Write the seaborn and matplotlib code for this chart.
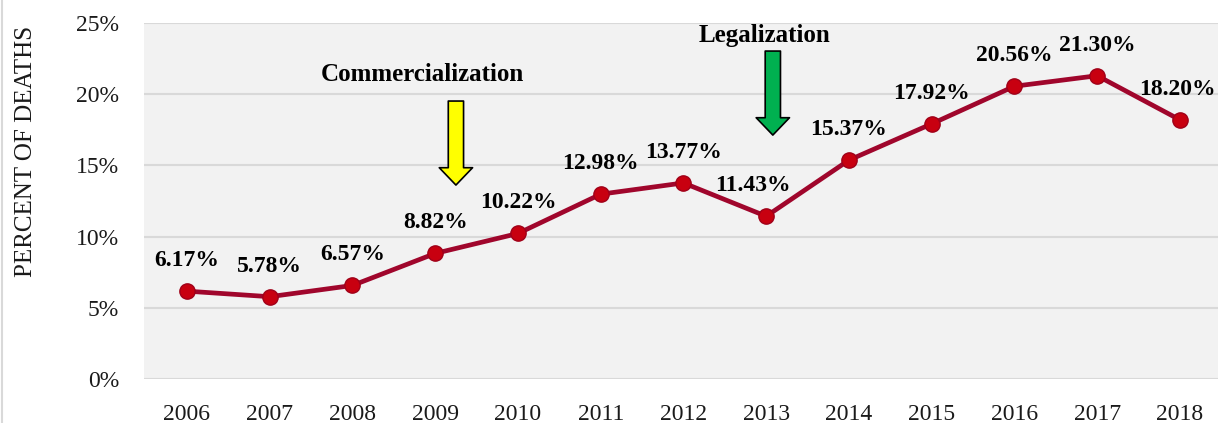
import matplotlib
matplotlib.use("Agg")
import matplotlib.pyplot as plt
import seaborn as sns
import pandas as pd
from matplotlib.ticker import PercentFormatter

years = [2006, 2007, 2008, 2009, 2010, 2011, 2012, 2013, 2014, 2015, 2016, 2017, 2018]
pct_deaths = [6.17, 5.78, 6.57, 8.82, 10.22, 12.98, 13.77, 11.43, 15.37, 17.92, 20.56, 21.30, 18.20]
# horizontal nudge of each value label, in pixels
label_dx = [0, 0, 0, 0, 0, 0, 0, -13, 0, 0, 0, 0, -2]

events = ["Commercialization", "Legalization"]
event_text_pos = [(2008.84, 20.93), (2012.98, 23.67)]
event_arrow_top = [(2009.25, 19.52), (2013.08, 23.03)]
event_arrow_tip = [(2009.25, 13.62), (2013.08, 17.13)]
event_colors = ["#FFFF00", "#00B050"]

df = pd.DataFrame({"year": years, "pct": pct_deaths})

sns.set_theme(style="white")
plt.rcParams["font.family"] = ["Liberation Serif", "DejaVu Serif"]

fig = plt.figure(figsize=(12.18, 4.23), dpi=100)
ax = fig.add_axes([0.1182, 0.104, 0.8818, 0.8416])
ax.set_facecolor("#F2F2F2")

sns.lineplot(data=df, x="year", y="pct", ax=ax, color="#A0062C", linewidth=3.4,
             marker="o", markersize=11, markerfacecolor="#C80010",
             markeredgecolor="#A00018", markeredgewidth=1, zorder=3)

for yr, v, dx in zip(years, pct_deaths, label_dx):
    ax.annotate(f"{v:.2f}%", (yr, v), xytext=(dx, 25), textcoords="offset pixels",
                ha="center", va="baseline", fontsize=17, fontweight="bold", color="black")

for name, tpos, top, tip, col in zip(events, event_text_pos, event_arrow_top, event_arrow_tip, event_colors):
    ax.text(tpos[0], tpos[1], name, ha="center", va="baseline", fontsize=18,
            fontweight="bold", color="black")
    ax.annotate("", xy=tip, xytext=top,
                arrowprops=dict(width=11, headwidth=24, headlength=12.5, shrink=0,
                                facecolor=col, edgecolor="black", linewidth=1.2))

ax.set_ylim(0, 25)
ax.set_xlim(2005.48, 2018.46)
ax.set_yticks([0, 5, 10, 15, 20, 25])
ax.yaxis.set_major_formatter(PercentFormatter(decimals=0))
ax.set_xticks(years)
ax.set_xticklabels([str(y) for y in years])
ax.grid(axis="y", color="#D9D9D9", linewidth=1.5)
ax.grid(axis="x", visible=False)
ax.set_axisbelow(True)
for s in ax.spines.values():
    s.set_visible(False)
ax.tick_params(axis="y", labelsize=17, pad=18, length=0, colors="#1a1a1a")
ax.tick_params(axis="x", labelsize=17, pad=18, length=0, colors="#1a1a1a")
ax.set_xlabel("")
ax.set_ylabel("PERCENT OF DEATHS", fontsize=18, color="#1a1a1a")
ax.yaxis.set_label_coords(-0.1, 0.64)

fig.add_artist(plt.Line2D([0.002, 0.002], [0, 1], color="#D9D9D9", linewidth=1.5))

fig.savefig("out.png", dpi=100)
